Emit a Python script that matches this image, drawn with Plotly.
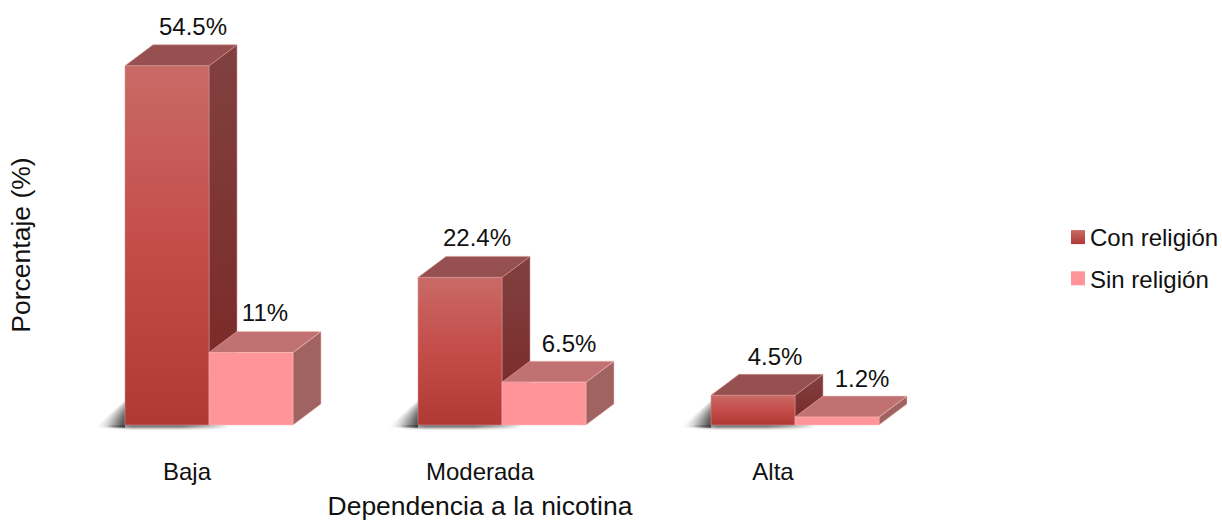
import plotly.graph_objects as go

categories = ["Baja", "Moderada", "Alta"]
con_religion = [54.5, 22.4, 4.5]
sin_religion = [11, 6.5, 1.2]
series_names = ["Con religión", "Sin religión"]
x_title = "Dependencia a la nicotina"
y_title = "Porcentaje (%)"

# layout constants
PX_X = 293.0      # pixels per category
PX_Y = 6.59       # pixels per percent
BAR_W = 84 / PX_X
DX = 28 / PX_X
DY = 21 / PX_Y
L, R, T, B = 50, 312, 40, 71
FONT = "Liberation Sans, Arial, sans-serif"
SIZE = 24
TITLE_SIZE = 26.5

label_dx = {0: [26, 14], 1: [17, 25], 2: [22, 25]}  # px offset of the label from the front face centre
label_dy = {0: [25, 26], 1: [25, 24], 2: [24, 24]}  # px above the front top edge

CON_FRONT = [[0, "#b03835"], [0.5, "#c44c49"], [1, "#c96a66"]]
CON_SIDE = [[0, "#7a2625"], [1, "#804140"]]

fig = go.Figure()


def poly(xs, ys, color=None, grad=None, line="rgba(0,0,0,0)", gtype="vertical"):
    kw = dict(x=xs + xs[:1], y=ys + ys[:1], mode="lines", fill="toself",
              line=dict(color=line, width=1), hoverinfo="skip",
              showlegend=False, cliponaxis=False)
    if grad:
        kw["fillgradient"] = dict(type=gtype, colorscale=grad)
    else:
        kw["fillcolor"] = color
    fig.add_trace(go.Scatter(**kw))


def box(x0, v, front, top, side, edge):
    x1 = x0 + BAR_W
    poly([x1, x1 + DX, x1 + DX, x1], [0, DY, v + DY, v],
         grad=side if isinstance(side, list) else None,
         color=None if isinstance(side, list) else side, line=edge)
    poly([x0, x1, x1 + DX, x0 + DX], [v, v, v + DY, v + DY], color=top, line=edge)
    poly([x0, x1, x1, x0], [0, 0, v, v],
         grad=front if isinstance(front, list) else None,
         color=None if isinstance(front, list) else front, line=edge)


# soft shadows at the foot of the tall bars
for i in range(len(categories)):
    x0 = i - BAR_W
    for k in range(9):
        reach = (30 - 3 * k) / PX_X
        lift = (24 - 2.6 * k) / PX_Y
        poly([x0 - reach, x0, x0], [-2.5 / PX_Y, -2.5 / PX_Y, lift],
             grad=[[0, "rgba(50,50,50,0)"], [0.5, "rgba(50,50,50,0.1)"], [1, "rgba(50,50,50,0.2)"]],
             gtype="horizontal")
    for h, op in [(4.5, 0.2), (3.5, 0.25), (2.5, 0.3), (1.5, 0.35)]:
        poly([x0 - 0.06, x0 + 2 * BAR_W * 0.62, x0 + 2 * BAR_W * 0.62, x0 - 0.06],
             [-h / PX_Y, -h / PX_Y, 0, 0],
             grad=[[0, "rgba(60,60,60,0)"], [0.2, f"rgba(60,60,60,{op})"], [0.6, f"rgba(60,60,60,{op})"],
                   [1, "rgba(60,60,60,0)"]],
             gtype="horizontal")

for i in range(len(categories)):
    box(i - BAR_W, con_religion[i], CON_FRONT, "#96504f", CON_SIDE, "rgba(214,150,150,0.55)")
    box(i, sin_religion[i], "#ff9599", "#c07272", "#a16262", "rgba(255,190,190,0.5)")

# data labels
lx, ly, lt = [], [], []
for i in range(len(categories)):
    lx += [i - BAR_W / 2 + label_dx[i][0] / PX_X, i + BAR_W / 2 + label_dx[i][1] / PX_X]
    ly += [con_religion[i] + label_dy[i][0] / PX_Y, sin_religion[i] + label_dy[i][1] / PX_Y]
    lt += [f"{con_religion[i]:g}%", f"{sin_religion[i]:g}%"]
fig.add_trace(go.Scatter(x=lx, y=ly, text=lt, mode="text", textposition="top center",
                         textfont=dict(family=FONT, size=SIZE, color="#111111"),
                         hoverinfo="skip", showlegend=False, cliponaxis=False))

# legend entries
fig.add_trace(go.Scatter(x=[None], y=[None], mode="markers", name=series_names[0], legendgroup="a",
                         marker=dict(symbol="square", size=14, color="#c96a66",
                                     gradient=dict(type="vertical", color="#b03835"))))
fig.add_trace(go.Scatter(x=[None], y=[None], mode="markers", name=series_names[1], legendgroup="b",
                         marker=dict(symbol="square", size=14, color="#ff9599")))

n = len(categories)
fig.update_layout(
    width=1222, height=521, autosize=False,
    margin=dict(l=L, r=R, t=T, b=B, pad=0),
    paper_bgcolor="white", plot_bgcolor="white",
    font=dict(family=FONT, size=SIZE, color="#111111"),
    legend=dict(x=1050 / 1222, xanchor="left", y=1 - 258 / 521, yanchor="middle",
                xref="container", yref="container",
                bgcolor="rgba(0,0,0,0)", tracegroupgap=7, traceorder="grouped",
                font=dict(family=FONT, size=SIZE, color="#111111")),
    xaxis=dict(range=[(L - 209) / PX_X, (1222 - R - 209) / PX_X], tickmode="array",
               tickvals=[i - 22 / PX_X for i in range(n)], ticktext=categories,
               ticks="outside", ticklen=0, tickcolor="rgba(0,0,0,0)",
               showgrid=False, zeroline=False, showline=False, automargin=False,
               tickfont=dict(family=FONT, size=SIZE, color="#111111"),
               title=dict(text=x_title, standoff=18, font=dict(family=FONT, size=TITLE_SIZE, color="#111111"))),
    yaxis=dict(range=[-25 / PX_Y, (425 - T) / PX_Y], showticklabels=False, ticks="",
               showgrid=False, zeroline=False, showline=False, automargin=False,
               title=dict(text=y_title, standoff=10, font=dict(family=FONT, size=TITLE_SIZE, color="#111111"))),
)
post = ("document.body.style.margin='0';document.documentElement.style.overflow='hidden';"
        "document.querySelectorAll('.legend .legendpoints').forEach(function(g){g.setAttribute('transform','translate(8,0)');});")
fig.write_html("out.html", config=dict(displayModeBar=False), post_script=post)
